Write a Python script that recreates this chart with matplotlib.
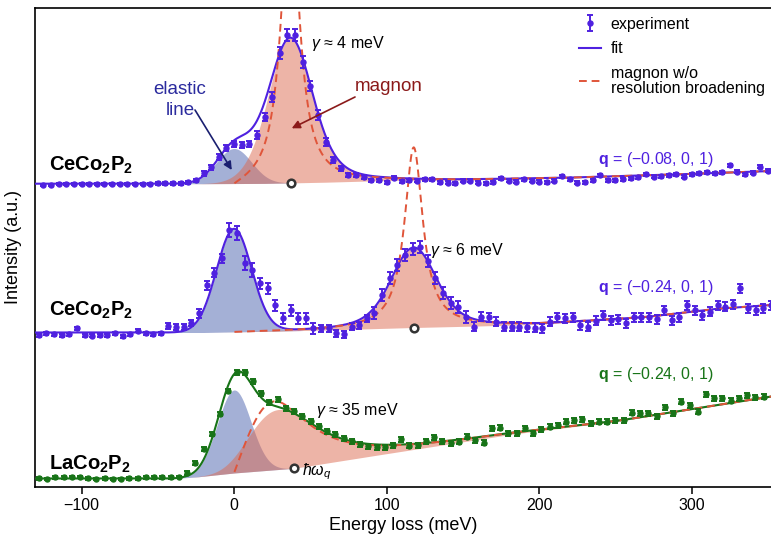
import numpy as np
import matplotlib
matplotlib.use("Agg")
import matplotlib.pyplot as plt

plt.rcParams['font.family'] = ['Liberation Sans', 'DejaVu Sans']
plt.rcParams['mathtext.fontset'] = 'custom'
plt.rcParams['mathtext.rm'] = 'Liberation Sans'
plt.rcParams['mathtext.it'] = 'Liberation Sans:italic'
plt.rcParams['mathtext.bf'] = 'Liberation Sans:bold'

# ---------------- data (intensity in a.u., above each spectrum's baseline) ----------------
top_E = np.arange(-125, 351, 5.0)
top_I = [-1, -1, 0, 0.3, 0, 0, 0.3, 0, 0, 0.3, 0, 0, 0, 0, 0.3, 0.7, 0.7, 0.7, 0.7,
         2, 4, 10.7, 17, 27, 36, 40, 39, 40, 49, 67, 87, 131, 149, 149, 122, 98, 69, 42, 24,
         16, 9, 9, 7,
         4, 4, 1.7, 6.3, 3, 4, 3.3, 4.7, 5, 1.7, 1.3, 0.7, 3.3, 3.3, 1.3, 0.7, 1.7, 5.7, 3.3,
         2.3, 4.7, 3.3, 2.3, 1.7, 3.3, 8, 4.7, 1.3, 2, 4, 8.7, 4, 4, 4.7, 5.7, 6.7, 9.7, 7.3,
         8, 9, 9.7, 7.3, 9.7, 10.7, 11.7, 10.7, 12, 19, 12.3, 9.7, 11.3, 17.3, 13.3]
top_err = [1.2] * 19 + [1.5, 1.5, 2.5, 2.5, 3, 3, 3, 3, 3, 4, 4, 5, 6, 6, 6, 6, 5, 5, 4, 3,
                        2.5, 2, 2, 2] + [1.5] * 53

mid_E = np.arange(-128, 353, 5.0)
mid_I = [-2, -0.3, -1, -2, -1, 4.7, -2.3, -2.7, -2.3, -2, -0.3, -3, -1, 2.3, -0.3, -1.3,
         -0.3, 7, 6.3, 5.7, 9.7, 19.7, 48, 60.3, 74.7, 103, 99.7, 69.7, 63, 49.7, 44.7, 28,
         14.7, 23, 14.7, 14.7, 4.7, 4.7, 4.7, -0.3, -1, 6.3, 8, 14.7,
         20, 38, 55, 68, 78, 84, 86, 72, 55, 40, 30, 26, 16,
         6.3, 16.3, 15.7, 11.3, 6.3, 6.3, 6.3, 5.7, 5.3, 4.7, 11.3, 15.7, 14.7, 15.7, 8, 6.3,
         12.3, 18, 13, 13.7, 9.7, 15.7, 15.7, 15.7, 13.7, 23, 13, 15.7, 28, 23, 18, 21.3, 28,
         26.3, 29, 44.7, 25, 23, 25, 28]
mid_err = [1.5] * 17 + [3] * 4 + [4.5] * 4 + [7] * 4 + [5.5] * 8 + [3.5] * 7 + [6] * 13 + [4.5] * 40

bot_E = np.arange(-128, 350, 5.4)
bot_I = [0.7, 0, 1.7, 1.7, 2.3, 2.3, 0.7, 0, 0.7, 0, 0, 0.7, 0.7, 1.7, 1.7, 1.7, 1.7, 2,
         6, 16, 30, 45, 65, 88, 107, 107, 98, 86, 77, 80, 71, 68, 63, 58, 53, 48, 45, 41,
         38, 35, 33, 32, 32, 34, 39.7, 33.5, 34, 38, 42, 38, 36, 37.3, 42.3, 39, 36.3, 50.7,
         51.3, 45.7, 45.7, 50.7, 45.7, 49.7, 52.3, 54, 57.3, 59, 59.7, 55.7, 57.3, 57.3, 59,
         59, 66.3, 65.7, 65.7, 63, 71.7, 65.7, 77.3, 74, 67.3, 85, 80.7, 80.7, 78.3, 80.7,
         84, 81.7, 82.3]
bot_err = [1.2] * 18 + [2] * 6 + [2.5] * 65

# background knots of the fits
top_bg_E = [-131, -20, 20, 60, 100, 150, 220, 290, 353]
top_bg_I = [0.3, 0.3, 0.6, 1.8, 3.5, 4, 6.2, 9.5, 13]
mid_bg_E = [-131, -20, 30, 60, 118, 160, 200, 227, 270, 314, 353]
mid_bg_I = [0.5, 0.5, 2, 3, 5.5, 7, 8.7, 11.3, 15.7, 23.7, 28]
bot_bg_E = [-131, -40, -25, 0, 39, 96, 183, 253, 353]
bot_bg_I = [0.5, 0.5, 2, 6, 10.7, 24.4, 45, 58, 82.5]

# fit parameters: elastic amp, resolution sigma,
# magnon energy, damping, unbroadened peak, broadened peak
top_fit = dict(el=35, sig=11.5, e0=37.5, gam=14, peak=290, conv=145)
mid_fit = dict(el=103, sig=11.5, e0=118, gam=14.6, peak=180, conv=80)
bot_fit = dict(el=83, sig=11, e0=39, gam=65, peak=57, conv=60)

offsets = [303, 154, 8]
names = [r'$\mathbf{CeCo_2P_2}$', r'$\mathbf{CeCo_2P_2}$', r'$\mathbf{LaCo_2P_2}$']
q_labels = [r'$\mathbf{q}$ = (−0.08, 0, 1)', r'$\mathbf{q}$ = (−0.24, 0, 1)',
            r'$\mathbf{q}$ = (−0.24, 0, 1)']
gammas = [r'$\gamma$ ≈ 4 meV', r'$\gamma$ ≈ 6 meV', r'$\gamma$ ≈ 35 meV']

purple = '#4f21e0'
green = '#187418'
blue_fill = '#5a6fb5'
pink_fill = '#dd6a50'
dash_col = '#e0553a'

grid = np.linspace(-140, 360, 2001)
step = grid[1] - grid[0]


def dho(e, peak, e0, gam):
    d = peak * gam ** 2 * e0 * e / ((e ** 2 - e0 ** 2) ** 2 + (gam * e) ** 2)
    return np.where(e > 0, d, 0.0)


def broaden(curve, sig, peak):
    xk = np.arange(-60, 60 + step / 2, step)
    kern = np.exp(-0.5 * (xk / sig) ** 2)
    out = np.convolve(curve, kern, mode='same')
    return out / out.max() * peak


fig = plt.figure(figsize=(7.71, 5.46), dpi=100)
ax = fig.add_axes([35 / 771, 59 / 546, 1 - 35 / 771, 479 / 546])

spectra = [(top_E, top_I, top_err, top_bg_E, top_bg_I, top_fit, purple),
           (mid_E, mid_I, mid_err, mid_bg_E, mid_bg_I, mid_fit, purple),
           (bot_E, bot_I, bot_err, bot_bg_E, bot_bg_I, bot_fit, green)]

handles = []
for i, (E, I, err, bgE, bgI, p, col) in enumerate(spectra):
    off = offsets[i]
    bg = np.interp(grid, bgE, bgI)
    el = p['el'] * np.exp(-0.5 * (grid / p['sig']) ** 2)
    raw = dho(grid, p['peak'], p['e0'], p['gam'])
    mag = broaden(raw, p['sig'], p['conv'])
    fit = bg + el + mag

    ax.fill_between(grid, off + bg, off + bg + el, color=blue_fill, alpha=0.55, lw=0, zorder=1)
    ax.fill_between(grid, off + bg, off + bg + mag, color=pink_fill, alpha=0.5, lw=0, zorder=1)
    fl, = ax.plot(grid, off + fit, color=col, lw=1.5, zorder=3)
    pos = grid > 0
    dl, = ax.plot(grid[pos], off + bg[pos] + raw[pos], color=dash_col, lw=1.4,
                  dashes=(4, 2.5), zorder=3.5)
    eb = ax.errorbar(E, off + np.array(I), yerr=err, fmt='o', color=col, ms=3.6,
                     capsize=2.3, elinewidth=1.4, capthick=1.4, zorder=4)
    e0 = p['e0']
    ax.plot([e0], [off + np.interp(e0, bgE, bgI)], 'o', ms=5.5, mfc='white', mec='#333333',
            mew=1.8, zorder=5)
    if i == 0:
        handles = [eb, fl, dl]

# labels
ax.text(-121, 322, names[0], fontsize=14.5, va='center', ha='left')
ax.text(-121, 177, names[1], fontsize=14.5, va='center', ha='left')
ax.text(-121, 23, names[2], fontsize=14.5, va='center', ha='left')
ax.text(314.4, 328, q_labels[0], fontsize=11.5, color=purple, ha='right', va='center')
ax.text(314.4, 199.5, q_labels[1], fontsize=11.5, color=purple, ha='right', va='center')
ax.text(314.4, 112, q_labels[2], fontsize=11.5, color=green, ha='right', va='center')
ax.text(50.5, 444, gammas[0], fontsize=11.5, ha='left', va='center')
ax.text(128.5, 237, gammas[1], fontsize=11.5, ha='left', va='center')
ax.text(54, 77, gammas[2], fontsize=11.5, ha='left', va='center')
ax.text(44.6, 15, r'$\hbar\omega_q$', fontsize=11.5, ha='left', va='center')

ax.text(-35.4, 387, 'elastic\nline', fontsize=13.5, color='#2b2b9e', ha='center',
        va='center', linespacing=1.3)
ax.annotate('', xy=(-1.5, 317), xytext=(-25.6, 377),
            arrowprops=dict(arrowstyle='-|>', color='#1a1f70', lw=1.2,
                            mutation_scale=12, shrinkA=0, shrinkB=0), zorder=6)
ax.text(101.6, 401, 'magnon', fontsize=13.5, color='#8b1a1a', ha='center', va='center')
ax.annotate('', xy=(37.8, 358.7), xytext=(79.3, 390),
            arrowprops=dict(arrowstyle='-|>', color='#8b1a1a', lw=1.2,
                            mutation_scale=12, shrinkA=0, shrinkB=0), zorder=6)

leg = ax.legend(handles, ['experiment', 'fit', 'magnon w/o\nresolution broadening'],
                loc='upper left', bbox_to_anchor=(574 / 771, 1 - 12 / 546),
                bbox_transform=fig.transFigure, frameon=False, fontsize=11.5,
                handlelength=1.4, handletextpad=0.6, labelspacing=0.6, borderaxespad=0,
                borderpad=0.3)
leg.get_texts()[2].set_linespacing(1.0)

ax.set_xlim(-130.5, 352)
ax.set_ylim(0, 479)
ax.set_xticks([-100, 0, 100, 200, 300])
ax.set_xticklabels(['−100', '0', '100', '200', '300'])
ax.set_yticks([])
ax.tick_params(axis='x', direction='out', length=5, width=1.1, labelsize=11.5, pad=3)
for s in ['left', 'bottom', 'top']:
    ax.spines[s].set_linewidth(1.2)
ax.spines['right'].set_visible(False)
ax.set_xlabel('Energy loss (meV)', fontsize=13, labelpad=3)
ax.set_ylabel('Intensity (a.u.)', fontsize=13, labelpad=9)

fig.savefig('out.png', dpi=100)
